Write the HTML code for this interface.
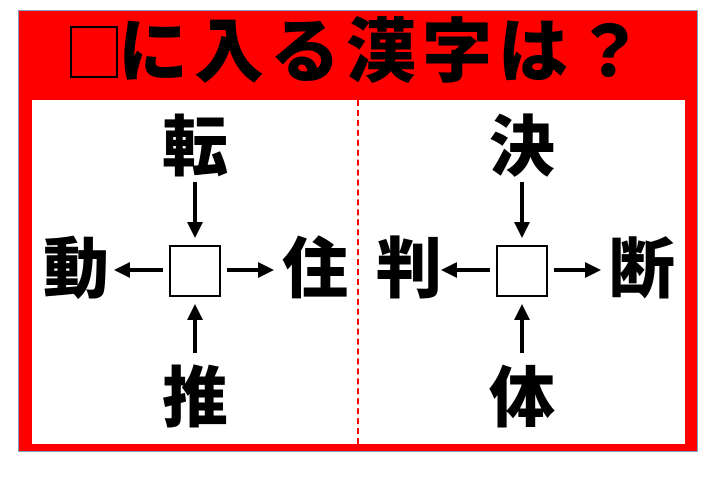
<!DOCTYPE html>
<html><head><meta charset="utf-8"><style>
body{margin:0;width:720px;height:493px;background:#fff;position:relative;overflow:hidden;font-family:"Liberation Sans","Noto Sans CJK JP",sans-serif}
.a{position:absolute}
.k{position:absolute;font-size:66px;font-weight:900;line-height:64px;width:80px;text-align:center;color:#000}
.box{position:absolute;width:48px;height:48px;border:2px solid #000;background:#fff}
</style></head><body>
<div class="a" style="left:19px;top:11px;width:678px;height:440px;background:#f00;outline:1px solid #7fa0c0"></div>
<div class="a" style="left:32px;top:100px;width:653px;height:344px;background:#fff"></div>
<div class="a" style="left:357px;top:100px;width:0;height:344px;border-left:2px dashed #f00"></div>
<div class="a" style="left:70px;top:26px;width:48px;height:52px;border:2px solid #000;box-sizing:border-box"></div>
<div class="a" style="left:118px;top:14px;width:520px;text-align:left;font-size:70px;font-weight:900;line-height:76px;color:#000;letter-spacing:6px;white-space:nowrap">に入る漢字は？</div>
<svg class="a" style="left:0;top:0" width="720" height="493">
<defs><marker id="m" markerWidth="4" markerHeight="4" refX="2" refY="2" orient="auto" markerUnits="strokeWidth"><path d="M0,0 L4,2 L0,4z" fill="#000"/></marker></defs>
<g stroke="#000" stroke-width="4" marker-end="url(#m)">
<line x1="195" y1="182" x2="195" y2="230"/>
<line x1="195" y1="353" x2="195" y2="312"/>
<line x1="163" y1="270" x2="122" y2="270"/>
<line x1="227" y1="270" x2="266" y2="270"/>
<line x1="522" y1="182" x2="522" y2="230"/>
<line x1="522" y1="353" x2="522" y2="312"/>
<line x1="490" y1="270" x2="449" y2="270"/>
<line x1="554" y1="270" x2="593" y2="270"/>
</g></svg>
<div class="box" style="left:169px;top:245px"></div>
<div class="box" style="left:496px;top:245px"></div>
<div class="k" style="left:155px;top:115px">転</div>
<div class="k" style="left:36px;top:237px">動</div>
<div class="k" style="left:275px;top:237px">住</div>
<div class="k" style="left:155px;top:366px">推</div>
<div class="k" style="left:482px;top:115px">決</div>
<div class="k" style="left:369px;top:237px">判</div>
<div class="k" style="left:602px;top:237px">断</div>
<div class="k" style="left:482px;top:366px">体</div>
</body></html>
